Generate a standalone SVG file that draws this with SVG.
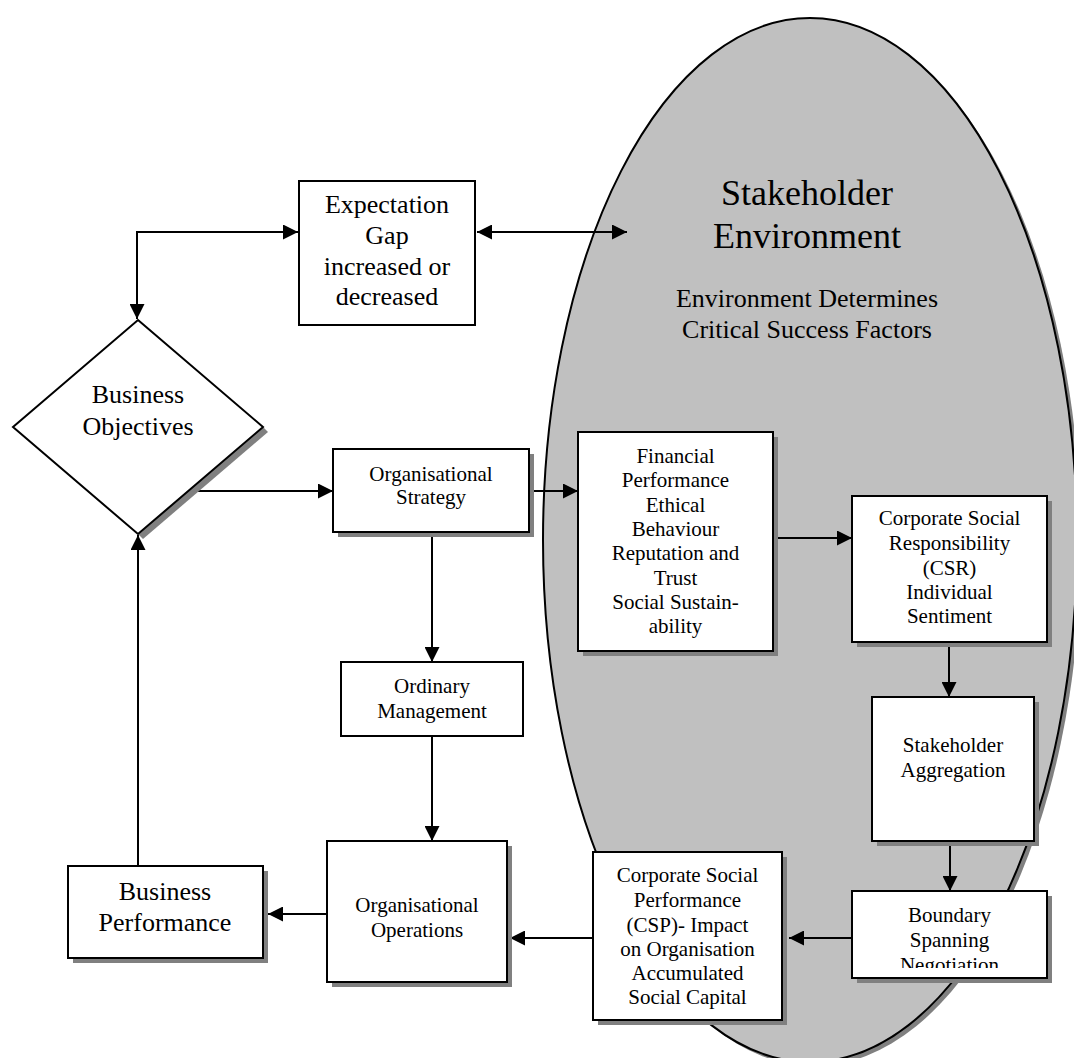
<svg xmlns="http://www.w3.org/2000/svg" width="1074" height="1058" viewBox="0 0 1074 1058">
<defs>
<marker id="ah" viewBox="0 0 15 15" refX="15" refY="7.5" markerWidth="15" markerHeight="15" markerUnits="userSpaceOnUse" orient="auto-start-reverse">
<path d="M0,0 L15,7.5 L0,15 Z" fill="#000"/>
</marker>
<clipPath id="clipB"><rect x="852" y="891" width="195" height="77"/></clipPath>
</defs>
<style>
.box{fill:#fff;stroke:#000;stroke-width:2}
.sh{fill:#808080}
.t{font-family:"Liberation Serif","Times New Roman",Times,serif;fill:#000;text-anchor:middle}
.t26{font-size:26px}
.t21{font-size:21px}
.c{fill:none;stroke:#000;stroke-width:2}
</style>
<rect width="1074" height="1058" fill="#fff"/>

<g id="environment">
<ellipse cx="814" cy="544" rx="267" ry="522" fill="#808080"/>
<ellipse cx="810" cy="540" rx="267" ry="522" fill="#c0c0c0" stroke="#000" stroke-width="2"/>
<text class="t" font-size="36" x="807" y="205">Stakeholder</text>
<text class="t" font-size="36" x="807" y="248">Environment</text>
<text class="t t26" x="807" y="307">Environment Determines</text>
<text class="t t26" x="807" y="338">Critical Success Factors</text>
</g>

<g id="connectors">
<path class="c" d="M298,232 H137 V319" marker-start="url(#ah)" marker-end="url(#ah)"/>
<line class="c" x1="477" y1="232" x2="627" y2="232" marker-start="url(#ah)" marker-end="url(#ah)"/>
<line class="c" x1="198" y1="491" x2="333" y2="491" marker-end="url(#ah)"/>
<line class="c" x1="529" y1="491" x2="578" y2="491" marker-end="url(#ah)"/>
<line class="c" x1="773" y1="538" x2="852" y2="538" marker-end="url(#ah)"/>
<line class="c" x1="432" y1="532" x2="432" y2="662" marker-end="url(#ah)"/>
<line class="c" x1="432" y1="736" x2="432" y2="841" marker-end="url(#ah)"/>
<line class="c" x1="949" y1="642" x2="949" y2="697" marker-end="url(#ah)"/>
<line class="c" x1="950" y1="841" x2="950" y2="891" marker-end="url(#ah)"/>
<line class="c" x1="852" y1="938" x2="789" y2="938" marker-end="url(#ah)"/>
<line class="c" x1="593" y1="938" x2="510" y2="938" marker-end="url(#ah)"/>
<line class="c" x1="327" y1="914" x2="268" y2="914" marker-end="url(#ah)"/>
<line class="c" x1="138" y1="866" x2="138" y2="535" marker-end="url(#ah)"/>
</g>

<g id="expectation-gap">
<rect class="box" x="299" y="181" width="176" height="144"/>
<text class="t t26" x="387" y="213">Expectation</text>
<text class="t t26" x="387" y="244">Gap</text>
<text class="t t26" x="387" y="275">increased or</text>
<text class="t t26" x="387" y="305">decreased</text>
</g>

<g id="business-objectives">
<polygon class="sh" points="263,427 268,432 143,539 138,534"/>
<polygon class="box" points="138,320 263,427 138,534 13,427"/>
<text class="t t26" x="138" y="403">Business</text>
<text class="t t26" x="138" y="435">Objectives</text>
</g>

<g id="organisational-strategy">
<rect class="sh" x="338" y="454" width="196" height="83"/>
<rect class="box" x="333" y="449" width="196" height="83"/>
<text class="t t21" x="431" y="481">Organisational</text>
<text class="t t21" x="431" y="504">Strategy</text>
</g>

<g id="financial">
<rect class="sh" x="583" y="437" width="195" height="219"/>
<rect class="box" x="578" y="432" width="195" height="219"/>
<text class="t t21" x="675.5" y="463">Financial</text>
<text class="t t21" x="675.5" y="487">Performance</text>
<text class="t t21" x="675.5" y="512">Ethical</text>
<text class="t t21" x="675.5" y="536">Behaviour</text>
<text class="t t21" x="675.5" y="560">Reputation and</text>
<text class="t t21" x="675.5" y="585">Trust</text>
<text class="t t21" x="675.5" y="609">Social Sustain-</text>
<text class="t t21" x="675.5" y="633">ability</text>
</g>

<g id="csr">
<rect class="sh" x="857" y="501" width="195" height="146"/>
<rect class="box" x="852" y="496" width="195" height="146"/>
<text class="t t21" x="949.5" y="525">Corporate Social</text>
<text class="t t21" x="949.5" y="550">Responsibility</text>
<text class="t t21" x="949.5" y="575">(CSR)</text>
<text class="t t21" x="949.5" y="599">Individual</text>
<text class="t t21" x="949.5" y="623">Sentiment</text>
</g>

<g id="stakeholder-aggregation">
<rect class="sh" x="877" y="702" width="162" height="144"/>
<rect class="box" x="872" y="697" width="162" height="144"/>
<text class="t t21" x="953" y="752">Stakeholder</text>
<text class="t t21" x="953" y="777">Aggregation</text>
</g>

<g id="boundary-spanning">
<rect class="sh" x="857" y="896" width="195" height="87"/>
<rect class="box" x="852" y="891" width="195" height="87"/>
<g clip-path="url(#clipB)">
<text class="t t21" x="949.5" y="922">Boundary</text>
<text class="t t21" x="949.5" y="947">Spanning</text>
<text class="t t21" x="949.5" y="972">Negotiation</text>
</g>
</g>

<g id="csp">
<rect class="sh" x="598" y="857" width="189" height="168"/>
<rect class="box" x="593" y="852" width="189" height="168"/>
<text class="t t21" x="687.5" y="882">Corporate Social</text>
<text class="t t21" x="687.5" y="907">Performance</text>
<text class="t t21" x="687.5" y="932">(CSP)- Impact</text>
<text class="t t21" x="687.5" y="956">on Organisation</text>
<text class="t t21" x="687.5" y="980">Accumulated</text>
<text class="t t21" x="687.5" y="1004">Social Capital</text>
</g>

<g id="ordinary-management">
<rect class="box" x="341" y="662" width="182" height="74"/>
<text class="t t21" x="432" y="693">Ordinary</text>
<text class="t t21" x="432" y="718">Management</text>
</g>

<g id="organisational-operations">
<rect class="sh" x="332" y="846" width="180" height="141"/>
<rect class="box" x="327" y="841" width="180" height="141"/>
<text class="t t21" x="417" y="912">Organisational</text>
<text class="t t21" x="417" y="937">Operations</text>
</g>

<g id="business-performance">
<rect class="sh" x="73" y="871" width="195" height="92"/>
<rect class="box" x="68" y="866" width="195" height="92"/>
<text class="t t26" x="165" y="900">Business</text>
<text class="t t26" x="165" y="931">Performance</text>
</g>
</svg>
